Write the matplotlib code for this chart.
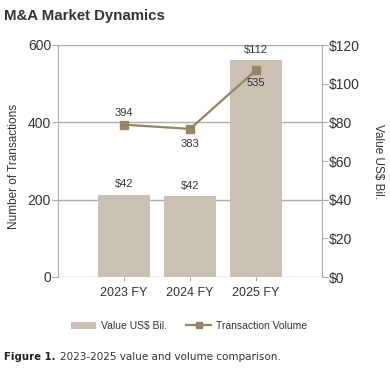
import matplotlib
matplotlib.use('Agg')
import matplotlib.pyplot as plt
from matplotlib.lines import Line2D
from matplotlib.patches import Patch

plt.rcParams['font.family'] = ['Liberation Sans', 'DejaVu Sans']

# data
years = ['2023 FY', '2024 FY', '2025 FY']
value_bil = [42.5, 41.8, 112.2]
value_labels = ['$42', '$42', '$112']
volume = [394, 383, 535]
left_ticks = [0, 200, 400, 600]
right_ticks = [0, 20, 40, 60, 80, 100, 120]

BAR_C = '#cbc1b2'
LINE_C = '#938565'
GRID_C = '#acacac'
TXT_C = '#333333'

fig = plt.figure(figsize=(3.9, 3.8), dpi=100)
ax = fig.add_axes([58 / 390, 1 - 277 / 380, 264 / 390, 232 / 380])
ax2 = ax.twinx()

x = list(range(len(years)))

# bars on the right axis (value)
ax2.bar(x, value_bil, width=0.8, color=BAR_C, zorder=2)
for xi, v, lab in zip(x, value_bil, value_labels):
    ax2.annotate(lab, (xi, v), xytext=(0, 4), textcoords='offset points',
                 ha='center', va='bottom', fontsize=8, color=TXT_C)
ax2.set_ylim(0, 120)
ax2.set_yticks(right_ticks)
ax2.set_yticklabels(['${}'.format(t) for t in right_ticks])

# line on the left axis (volume), drawn above bars
ax.set_zorder(ax2.get_zorder() + 1)
ax.patch.set_visible(False)
ax.plot(x, volume, color=LINE_C, lw=1.6, marker='s', ms=5.5, zorder=3)
offsets = [(0, 5, 'bottom'), (0, -7, 'top'), (0, -6, 'top')]
for xi, v, (dx, dy, va) in zip(x, volume, offsets):
    ax.annotate(str(v), (xi, v), xytext=(dx, dy), textcoords='offset points',
                ha='center', va=va, fontsize=8, color=TXT_C)
ax.set_ylim(0, 600)
ax.set_yticks(left_ticks)
ax.set_xlim(-1, 3)
ax2.set_xlim(-1, 3)
ax.set_xticks(x)
ax.set_xticklabels(years)

# axis titles
fig.text(14 / 390, 1 - 166 / 380, 'Number of Transactions', rotation=90, fontsize=8.5,
         color=TXT_C, ha='center', va='center')
fig.text(378 / 390, 1 - 162 / 380, 'Value US$ Bil.', rotation=270, fontsize=8.5,
         color=TXT_C, ha='center', va='center')

# grid lines from left ticks, drawn behind bars on ax2
for t in left_ticks:
    ax2.axhline(t * 120 / 600, color=GRID_C, lw=1, zorder=1)

for a in (ax, ax2):
    for s in a.spines.values():
        s.set_visible(False)
ax.spines['left'].set_visible(True)
ax.spines['left'].set_color(GRID_C)
ax2.spines['right'].set_visible(True)
ax2.spines['right'].set_color(GRID_C)
ax.tick_params(axis='y', length=4, color=GRID_C, labelsize=10, labelcolor=TXT_C, pad=1)
ax.tick_params(axis='x', length=3, color=GRID_C, labelsize=9, labelcolor=TXT_C, pad=4)
ax2.tick_params(axis='y', length=4, color=GRID_C, labelsize=10, labelcolor=TXT_C, pad=1)

# title
fig.text(4 / 390, 1 - 16 / 380, 'M&A Market Dynamics', fontsize=10.8, fontweight='bold',
         color=TXT_C, va='center', ha='left')

# legend
handles = [Patch(facecolor=BAR_C, edgecolor='none'),
           Line2D([0], [0], color=LINE_C, lw=1.6, marker='s', ms=4)]
fig.legend(handles, ['Value US$ Bil.', 'Transaction Volume'], loc='center',
           bbox_to_anchor=(189 / 390, 1 - 326 / 380), ncol=2, frameon=False,
           fontsize=7.5, handlelength=2.4, columnspacing=1.9, handletextpad=0.4,
           labelcolor=TXT_C)

# caption
fig.text(4 / 390, 1 - 357 / 380, 'Figure 1.', fontsize=7.3, fontweight='bold',
         color='#222222', va='center', ha='left', family=['DejaVu Sans'])
fig.text(60 / 390, 1 - 357 / 380, '2023-2025 value and volume comparison.', fontsize=7.5,
         color=TXT_C, va='center', ha='left', family=['DejaVu Sans'])

fig.savefig('out.png', dpi=100)
